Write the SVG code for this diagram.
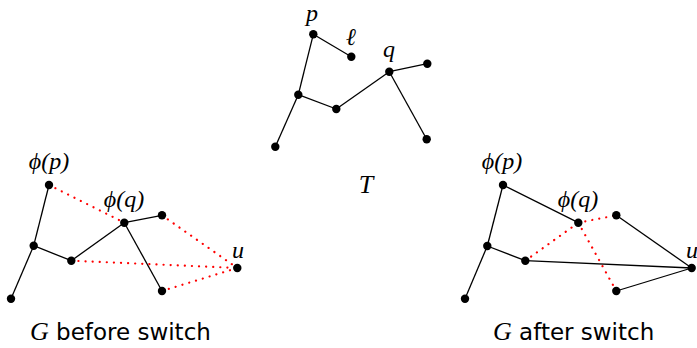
<svg xmlns="http://www.w3.org/2000/svg" width="697" height="348" viewBox="0 0 697 348">
<style>
.e{stroke:#000;stroke-width:1.3;fill:none}
.r{stroke:#f00;stroke-width:2.2;stroke-dasharray:0.1 7;stroke-linecap:round;fill:none}
.n{fill:#000}
.m{font-family:"Liberation Serif","DejaVu Serif",serif;font-style:italic;font-size:24px;fill:#000}
.s{font-family:"DejaVu Sans","Liberation Sans",sans-serif;font-size:23px;fill:#000}
</style>
<defs><circle id="d" r="4.2" class="n"/></defs>
<g id="connectors">
<!-- T -->
<line class="e" x1="313.3" y1="34.3" x2="351.3" y2="56.7"/>
<line class="e" x1="313.3" y1="34.3" x2="298.3" y2="94.7"/>
<line class="e" x1="298.3" y1="94.7" x2="275.3" y2="146.7"/>
<line class="e" x1="298.3" y1="94.7" x2="336.3" y2="109"/>
<line class="e" x1="336.3" y1="109" x2="389.3" y2="71.7"/>
<line class="e" x1="389.3" y1="71.7" x2="427.3" y2="63.7"/>
<line class="e" x1="389.3" y1="71.7" x2="426.7" y2="139.3"/>
<!-- G before -->
<line class="e" x1="49" y1="185" x2="33.7" y2="245.7"/>
<line class="e" x1="33.7" y1="245.7" x2="11" y2="298.7"/>
<line class="e" x1="33.7" y1="245.7" x2="71.3" y2="260.7"/>
<line class="e" x1="71.3" y1="260.7" x2="124.3" y2="222.7"/>
<line class="e" x1="124.3" y1="222.7" x2="162" y2="215.3"/>
<line class="e" x1="124.3" y1="222.7" x2="162" y2="291"/>
<line class="r" x1="49" y1="185" x2="124.3" y2="222.7"/>
<line class="r" x1="162" y1="215.3" x2="237.3" y2="268"/>
<line class="r" x1="71.3" y1="260.7" x2="237.3" y2="268"/>
<line class="r" x1="162" y1="291" x2="237.3" y2="268"/>
<!-- G after -->
<line class="e" x1="503" y1="185" x2="487.3" y2="246"/>
<line class="e" x1="487.3" y1="246" x2="465" y2="298.7"/>
<line class="e" x1="487.3" y1="246" x2="525.3" y2="260.7"/>
<line class="e" x1="503" y1="185" x2="578.3" y2="222.7"/>
<line class="e" x1="616.3" y1="215.3" x2="691.7" y2="268"/>
<line class="e" x1="525.3" y1="260.7" x2="691.7" y2="268"/>
<line class="e" x1="616.3" y1="291" x2="691.7" y2="268"/>
<line class="r" x1="525.3" y1="260.7" x2="578.3" y2="222.7"/>
<line class="r" x1="578.3" y1="222.7" x2="616.3" y2="215.3"/>
<line class="r" x1="578.3" y1="222.7" x2="616.3" y2="291"/>
</g>
<g id="T-p"><use href="#d" x="313.3" y="34.3"/><text class="m" x="312" y="21" text-anchor="middle">p</text></g>
<g id="T-l"><use href="#d" x="351.3" y="56.7"/><text class="m" x="351" y="45" text-anchor="middle">ℓ</text></g>
<g id="T-q"><use href="#d" x="389.3" y="71.7"/><text class="m" x="389" y="57" text-anchor="middle">q</text></g>
<g id="T-r"><use href="#d" x="427.3" y="63.7"/></g>
<g id="T-m"><use href="#d" x="298.3" y="94.7"/></g>
<g id="T-c"><use href="#d" x="336.3" y="109"/></g>
<g id="T-bl"><use href="#d" x="275.3" y="146.7"/></g>
<g id="T-br"><use href="#d" x="426.7" y="139.3"/></g>
<g id="T-label"><text class="m" x="366" y="193" text-anchor="middle" style="font-size:26px">T</text></g>

<g id="B-p"><use href="#d" x="49" y="185"/><text class="m" x="49" y="169" text-anchor="middle">ϕ(p)</text></g>
<g id="B-q"><use href="#d" x="124.3" y="222.7"/><text class="m" x="124" y="207" text-anchor="middle">ϕ(q)</text></g>
<g id="B-r"><use href="#d" x="162" y="215.3"/></g>
<g id="B-m"><use href="#d" x="33.7" y="245.7"/></g>
<g id="B-c"><use href="#d" x="71.3" y="260.7"/></g>
<g id="B-bl"><use href="#d" x="11" y="298.7"/></g>
<g id="B-br"><use href="#d" x="162" y="291"/></g>
<g id="B-u"><use href="#d" x="237.3" y="268"/><text class="m" x="238" y="258" text-anchor="middle">u</text></g>
<g id="B-label"><text x="30" y="340"><tspan class="m" style="font-size:26px">G</tspan><tspan class="s"> before switch</tspan></text></g>

<g id="A-p"><use href="#d" x="503" y="185"/><text class="m" x="502" y="169" text-anchor="middle">ϕ(p)</text></g>
<g id="A-q"><use href="#d" x="578.3" y="222.7"/><text class="m" x="578" y="207" text-anchor="middle">ϕ(q)</text></g>
<g id="A-r"><use href="#d" x="616.3" y="215.3"/></g>
<g id="A-m"><use href="#d" x="487.3" y="246"/></g>
<g id="A-c"><use href="#d" x="525.3" y="260.7"/></g>
<g id="A-bl"><use href="#d" x="465" y="298.7"/></g>
<g id="A-br"><use href="#d" x="616.3" y="291"/></g>
<g id="A-u"><use href="#d" x="691.7" y="268"/><text class="m" x="692" y="258" text-anchor="middle">u</text></g>
<g id="A-label"><text x="493" y="340"><tspan class="m" style="font-size:26px">G</tspan><tspan class="s"> after switch</tspan></text></g>
</svg>
